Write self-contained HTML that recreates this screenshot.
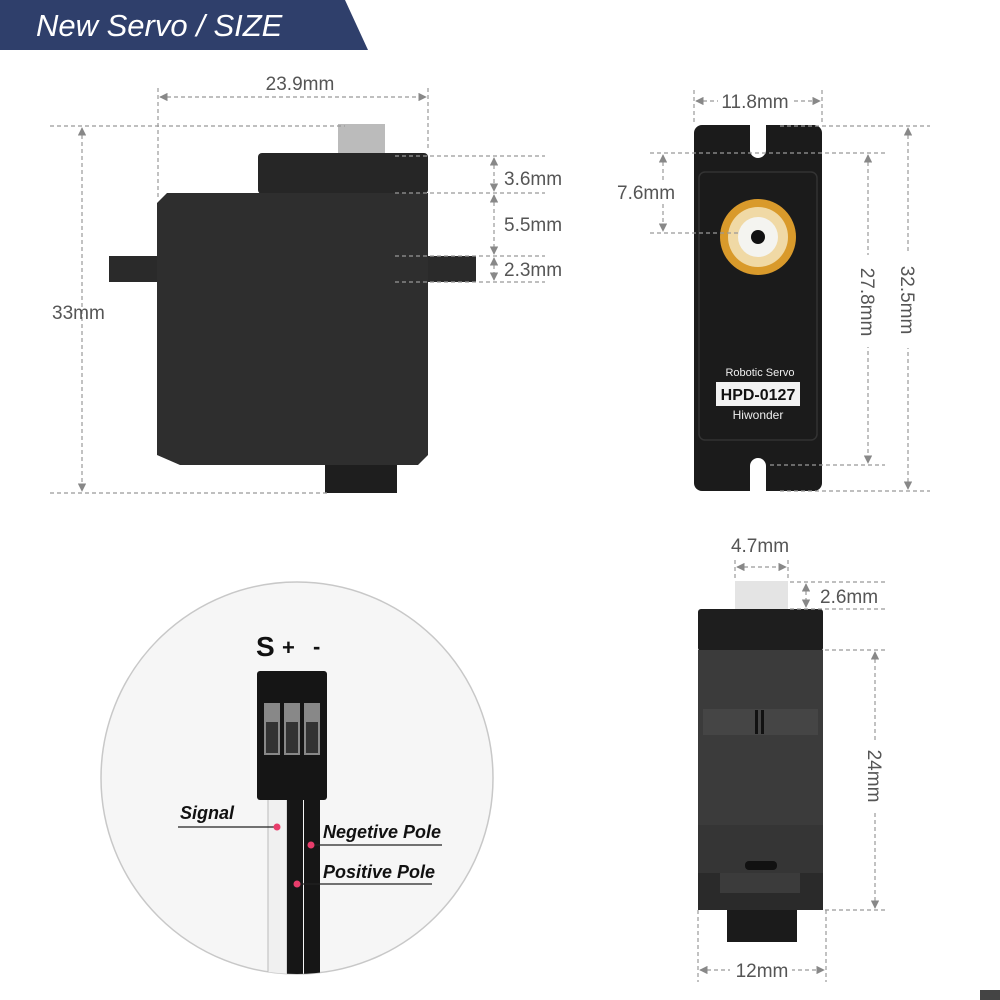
<!DOCTYPE html>
<html><head><meta charset="utf-8"><style>
html,body{margin:0;padding:0;background:#fff}
svg{display:block}
text{font-family:"Liberation Sans",sans-serif}
.d{fill:#555;font-size:19px}
.ln{stroke:#999;stroke-width:1.2;stroke-dasharray:4 3;fill:none}
.lb{font-weight:bold;font-style:italic;font-size:18px;fill:#111}
</style></head><body>
<svg width="1000" height="1000" viewBox="0 0 1000 1000" xmlns="http://www.w3.org/2000/svg">
<defs>
<marker id="a" viewBox="0 0 10 10" refX="9" refY="5" markerWidth="7" markerHeight="7" orient="auto-start-reverse"><path d="M0,0 L10,5 L0,10 z" fill="#888"/></marker>
</defs>
<!-- header -->
<polygon points="0,0 345,0 368,50 0,50" fill="#2f3f6b"/>
<text x="36" y="36" fill="#fff" font-size="31" font-style="italic">New Servo / SIZE</text>

<!-- left servo -->
<rect x="338" y="124" width="47" height="30" fill="#bbb"/>
<rect x="258" y="153" width="170" height="41" rx="4" fill="#262626"/>
<polygon points="167,193 428,193 428,455 418,465 180,465 157,455 157,203" fill="#2e2e2e"/>
<rect x="109" y="256" width="48" height="26" fill="#2a2a2a"/>
<rect x="428" y="256" width="48" height="26" fill="#2a2a2a"/>
<rect x="325" y="465" width="72" height="28" fill="#1e1e1e"/>
<line class="ln" x1="158" y1="88" x2="158" y2="200"/>
<line class="ln" x1="428" y1="88" x2="428" y2="150"/>
<line class="ln" x1="160" y1="97" x2="426" y2="97" marker-start="url(#a)" marker-end="url(#a)"/>
<text class="d" x="300" y="90" text-anchor="middle">23.9mm</text>
<line class="ln" x1="50" y1="126" x2="345" y2="126"/>
<line class="ln" x1="50" y1="493" x2="330" y2="493"/>
<line class="ln" x1="82" y1="128" x2="82" y2="491" marker-start="url(#a)" marker-end="url(#a)"/>
<text class="d" x="52" y="319">33mm</text>
<line class="ln" x1="395" y1="156" x2="545" y2="156"/>
<line class="ln" x1="395" y1="193" x2="545" y2="193"/>
<line class="ln" x1="395" y1="256" x2="545" y2="256"/>
<line class="ln" x1="395" y1="282" x2="545" y2="282"/>
<line class="ln" x1="494" y1="158" x2="494" y2="191" marker-start="url(#a)" marker-end="url(#a)"/>
<line class="ln" x1="494" y1="195" x2="494" y2="254" marker-start="url(#a)" marker-end="url(#a)"/>
<line class="ln" x1="494" y1="258" x2="494" y2="280" marker-start="url(#a)" marker-end="url(#a)"/>
<text class="d" x="504" y="185">3.6mm</text>
<text class="d" x="504" y="231">5.5mm</text>
<text class="d" x="504" y="276">2.3mm</text>

<!-- top right servo -->
<rect x="694" y="125" width="128" height="366" rx="8" fill="#1b1b1b"/>
<path d="M750,125 L750,150 A8,8 0 0 0 766,150 L766,125 z" fill="#fff"/>
<path d="M750,491 L750,466 A8,8 0 0 1 766,466 L766,491 z" fill="#fff"/>
<rect x="699" y="172" width="118" height="268" rx="6" fill="none" stroke="#333" stroke-width="1.5"/>
<circle cx="758" cy="237" r="38" fill="#d99a2b"/>
<circle cx="758" cy="237" r="30" fill="#f0d9a5"/>
<circle cx="758" cy="237" r="20" fill="#f4f4f0"/>
<circle cx="758" cy="237" r="7" fill="#111"/>
<text x="760" y="376" fill="#eee" font-size="11" text-anchor="middle">Robotic Servo</text>
<rect x="716" y="382" width="84" height="24" fill="#f2f2f2"/>
<text x="758" y="400" fill="#111" font-size="16" font-weight="bold" text-anchor="middle">HPD-0127</text>
<text x="758" y="419" fill="#eee" font-size="12" text-anchor="middle">Hiwonder</text>
<line class="ln" x1="694" y1="90" x2="694" y2="122"/>
<line class="ln" x1="822" y1="90" x2="822" y2="122"/>
<line class="ln" x1="696" y1="101" x2="820" y2="101" marker-start="url(#a)" marker-end="url(#a)"/>
<rect x="718" y="90" width="74" height="22" fill="#fff"/>
<text class="d" x="755" y="108" text-anchor="middle">11.8mm</text>
<line class="ln" x1="650" y1="153" x2="885" y2="153"/>
<line class="ln" x1="650" y1="233" x2="740" y2="233"/>
<line class="ln" x1="770" y1="465" x2="885" y2="465"/>
<line class="ln" x1="780" y1="126" x2="930" y2="126"/>
<line class="ln" x1="780" y1="491" x2="930" y2="491"/>
<line class="ln" x1="663" y1="155" x2="663" y2="231" marker-start="url(#a)" marker-end="url(#a)"/>
<rect x="615" y="180" width="72" height="24" fill="#fff"/>
<text class="d" x="617" y="199">7.6mm</text>
<line class="ln" x1="868" y1="155" x2="868" y2="463" marker-start="url(#a)" marker-end="url(#a)"/>
<line class="ln" x1="908" y1="128" x2="908" y2="489" marker-start="url(#a)" marker-end="url(#a)"/>
<rect x="856" y="255" width="24" height="92" fill="#fff"/>
<rect x="896" y="252" width="24" height="96" fill="#fff"/>
<text class="d" transform="translate(861,302) rotate(90)" text-anchor="middle">27.8mm</text>
<text class="d" transform="translate(901,300) rotate(90)" text-anchor="middle">32.5mm</text>

<!-- circle connector -->
<clipPath id="c"><circle cx="297" cy="778" r="196"/></clipPath>
<circle cx="297" cy="778" r="196" fill="#f6f6f6" stroke="#c8c8c8" stroke-width="1.5"/>
<g clip-path="url(#c)">
<rect x="268" y="795" width="19" height="200" fill="#f0f0f0" stroke="#bbb"/>
<rect x="287" y="795" width="16" height="200" fill="#161616"/>
<rect x="304" y="795" width="16" height="200" fill="#161616"/>
</g>
<rect x="257" y="671" width="70" height="129" rx="3" fill="#151515"/>
<rect x="264" y="703" width="16" height="52" fill="#888"/>
<rect x="284" y="703" width="16" height="52" fill="#888"/>
<rect x="304" y="703" width="16" height="52" fill="#888"/>
<rect x="266" y="722" width="12" height="31" fill="#333"/>
<rect x="286" y="722" width="12" height="31" fill="#333"/>
<rect x="306" y="722" width="12" height="31" fill="#333"/>
<text x="256" y="656" font-size="28" font-weight="bold" fill="#111">S</text>
<text x="282" y="655" font-size="22" font-weight="bold" fill="#111">+</text>
<text x="313" y="654" font-size="22" font-weight="bold" fill="#111">-</text>
<line x1="178" y1="827" x2="277" y2="827" stroke="#222" stroke-width="1.2"/>
<circle cx="277" cy="827" r="3.5" fill="#e83d6b"/>
<text class="lb" x="180" y="819">Signal</text>
<line x1="311" y1="845" x2="442" y2="845" stroke="#222" stroke-width="1.2"/>
<circle cx="311" cy="845" r="3.5" fill="#e83d6b"/>
<text class="lb" x="323" y="838">Negetive Pole</text>
<line x1="297" y1="884" x2="432" y2="884" stroke="#222" stroke-width="1.2"/>
<circle cx="297" cy="884" r="3.5" fill="#e83d6b"/>
<text class="lb" x="323" y="878">Positive Pole</text>

<!-- bottom right servo -->
<rect x="735" y="581" width="53" height="29" fill="#e4e4e4"/>
<rect x="698" y="609" width="125" height="42" rx="3" fill="#1e1e1e"/>
<rect x="698" y="650" width="125" height="260" fill="#3b3b3b"/>
<rect x="703" y="709" width="115" height="26" fill="#454545"/>
<rect x="755" y="710" width="3" height="24" fill="#111"/>
<rect x="761" y="710" width="3" height="24" fill="#111"/>
<rect x="698" y="825" width="125" height="85" fill="#353535"/>
<rect x="745" y="861" width="32" height="9" rx="4" fill="#111"/>
<rect x="698" y="873" width="125" height="37" fill="#2a2a2a"/>
<rect x="720" y="873" width="80" height="20" fill="#3b3b3b"/>
<rect x="727" y="910" width="70" height="32" fill="#1b1b1b"/>
<line class="ln" x1="735" y1="560" x2="735" y2="580"/>
<line class="ln" x1="788" y1="560" x2="788" y2="580"/>
<line class="ln" x1="737" y1="567" x2="786" y2="567" marker-start="url(#a)" marker-end="url(#a)"/>
<text class="d" x="760" y="552" text-anchor="middle">4.7mm</text>
<line class="ln" x1="790" y1="582" x2="885" y2="582"/>
<line class="ln" x1="790" y1="609" x2="885" y2="609"/>
<line class="ln" x1="806" y1="584" x2="806" y2="607" marker-start="url(#a)" marker-end="url(#a)"/>
<text class="d" x="820" y="603">2.6mm</text>
<line class="ln" x1="825" y1="650" x2="885" y2="650"/>
<line class="ln" x1="825" y1="910" x2="885" y2="910"/>
<line class="ln" x1="875" y1="652" x2="875" y2="908" marker-start="url(#a)" marker-end="url(#a)"/>
<rect x="863" y="740" width="24" height="70" fill="#fff"/>
<text class="d" transform="translate(868,776) rotate(90)" text-anchor="middle">24mm</text>
<line class="ln" x1="698" y1="910" x2="698" y2="982"/>
<line class="ln" x1="826" y1="910" x2="826" y2="982"/>
<line class="ln" x1="700" y1="970" x2="824" y2="970" marker-start="url(#a)" marker-end="url(#a)"/>
<rect x="730" y="958" width="62" height="22" fill="#fff"/>
<text class="d" x="762" y="977" text-anchor="middle">12mm</text>
<rect x="980" y="990" width="20" height="10" fill="#444"/>
</svg>
</body></html>
